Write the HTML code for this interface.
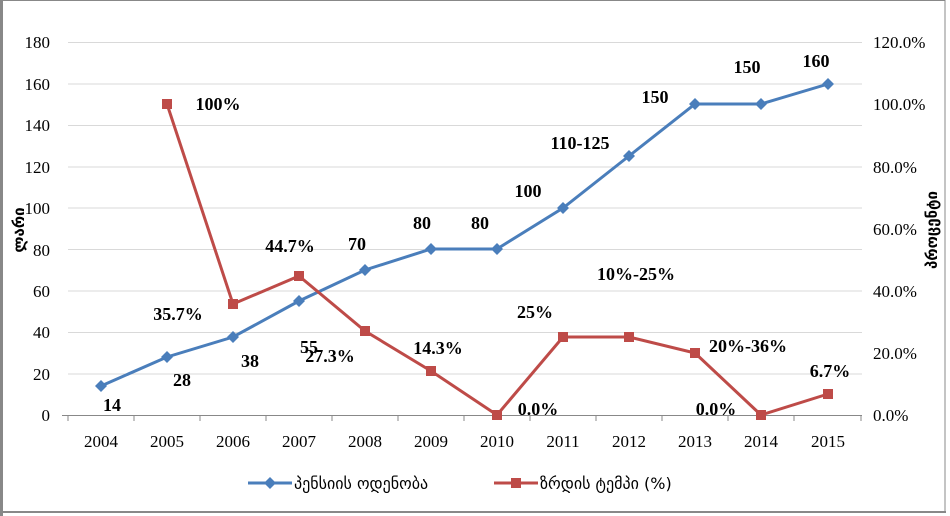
<!DOCTYPE html>
<html><head><meta charset="utf-8"><style>
body{margin:0;background:#fff}
svg{display:block}
.t{font-family:"Liberation Serif","DejaVu Serif",serif;font-size:17px;fill:#000}
.d{font-family:"Liberation Serif",serif;font-weight:bold;font-size:18px;fill:#000;text-anchor:middle}
.g{font-family:"DejaVu Sans",sans-serif;fill:#000}
</style></head><body>
<svg width="950" height="516" viewBox="0 0 950 516">
<rect x="1" y="0.5" width="944" height="511" fill="#fff" stroke="#888" stroke-width="1"/>
<rect x="0" y="0" width="3" height="516" fill="#888"/>
<rect x="0" y="511" width="946" height="2" fill="#888"/>
<g stroke="#d9d9d9" stroke-width="1">
<line x1="68" x2="862" y1="42.5" y2="42.5"/>
<line x1="68" x2="862" y1="84" y2="84"/>
<line x1="68" x2="862" y1="125.5" y2="125.5"/>
<line x1="68" x2="862" y1="167" y2="167"/>
<line x1="68" x2="862" y1="208" y2="208"/>
<line x1="68" x2="862" y1="249.5" y2="249.5"/>
<line x1="68" x2="862" y1="291" y2="291"/>
<line x1="68" x2="862" y1="332.5" y2="332.5"/>
<line x1="68" x2="862" y1="374" y2="374"/>
</g>
<line x1="62" x2="862" y1="415.5" y2="415.5" stroke="#888"/>
<g stroke="#888">
<line x1="68" x2="68" y1="415" y2="421"/><line x1="134" x2="134" y1="415" y2="421"/><line x1="200" x2="200" y1="415" y2="421"/><line x1="266" x2="266" y1="415" y2="421"/><line x1="332" x2="332" y1="415" y2="421"/><line x1="398" x2="398" y1="415" y2="421"/><line x1="464" x2="464" y1="415" y2="421"/><line x1="530" x2="530" y1="415" y2="421"/><line x1="596" x2="596" y1="415" y2="421"/><line x1="662" x2="662" y1="415" y2="421"/><line x1="728" x2="728" y1="415" y2="421"/><line x1="794" x2="794" y1="415" y2="421"/><line x1="861" x2="861" y1="415" y2="421"/>
</g>
<g class="t" text-anchor="end">
<text x="50" y="48">180</text><text x="50" y="90">160</text><text x="50" y="131">140</text><text x="50" y="173">120</text><text x="50" y="214">100</text><text x="50" y="256">80</text><text x="50" y="297">60</text><text x="50" y="338">40</text><text x="50" y="380">20</text><text x="50" y="421">0</text>
</g>
<g class="t" text-anchor="start">
<text x="873" y="48">120.0%</text><text x="873" y="110">100.0%</text><text x="873" y="173">80.0%</text><text x="873" y="235">60.0%</text><text x="873" y="297">40.0%</text><text x="873" y="359">20.0%</text><text x="873" y="421">0.0%</text>
</g>
<g class="t" text-anchor="middle">
<text x="101" y="447">2004</text><text x="167" y="447">2005</text><text x="233" y="447">2006</text><text x="299" y="447">2007</text><text x="365" y="447">2008</text><text x="431" y="447">2009</text><text x="497" y="447">2010</text><text x="563" y="447">2011</text><text x="629" y="447">2012</text><text x="695" y="447">2013</text><text x="761" y="447">2014</text><text x="828" y="447">2015</text>
</g>
<text class="g" transform="translate(24,230) rotate(-90)" text-anchor="middle" style="font-weight:bold;font-size:15px">ლარი</text>
<text class="g" transform="translate(937,230) rotate(-90)" text-anchor="middle" style="font-weight:bold;font-size:15px">პროცენტი</text>
<polyline fill="none" stroke="#4a7ebb" stroke-width="3" points="101,386 167,357 233,337 299,301 365,270 431,249 497,249 563,208 629,156 695,104 761,104 828,84"/>
<g fill="#4a7ebb">
<path d="M101,380l6,6l-6,6l-6,-6z"/><path d="M167,351l6,6l-6,6l-6,-6z"/><path d="M233,331l6,6l-6,6l-6,-6z"/><path d="M299,295l6,6l-6,6l-6,-6z"/><path d="M365,264l6,6l-6,6l-6,-6z"/><path d="M431,243l6,6l-6,6l-6,-6z"/><path d="M497,243l6,6l-6,6l-6,-6z"/><path d="M563,202l6,6l-6,6l-6,-6z"/><path d="M629,150l6,6l-6,6l-6,-6z"/><path d="M695,98l6,6l-6,6l-6,-6z"/><path d="M761,98l6,6l-6,6l-6,-6z"/><path d="M828,78l6,6l-6,6l-6,-6z"/>
</g>
<polyline fill="none" stroke="#be4b48" stroke-width="3" points="167,104 233,304 299,276 365,331 431,371 497,415 563,337 629,337 695,353 761,415 828,394"/>
<g fill="#be4b48">
<rect x="162" y="99" width="10" height="10"/><rect x="228" y="299" width="10" height="10"/><rect x="294" y="271" width="10" height="10"/><rect x="360" y="326" width="10" height="10"/><rect x="426" y="366" width="10" height="10"/><rect x="492" y="410" width="10" height="10"/><rect x="558" y="332" width="10" height="10"/><rect x="624" y="332" width="10" height="10"/><rect x="690" y="348" width="10" height="10"/><rect x="756" y="410" width="10" height="10"/><rect x="823" y="389" width="10" height="10"/>
</g>
<g class="d">
<text x="112" y="411">14</text><text x="182" y="386">28</text><text x="250" y="367">38</text><text x="309" y="353">55</text><text x="357" y="250">70</text><text x="422" y="229">80</text><text x="480" y="229">80</text><text x="528" y="197">100</text><text x="580" y="149">110-125</text><text x="655" y="103">150</text><text x="747" y="73">150</text><text x="816" y="67">160</text>
<text x="218" y="110">100%</text><text x="178" y="320">35.7%</text><text x="290" y="252">44.7%</text><text x="330" y="362">27.3%</text><text x="438" y="354">14.3%</text><text x="538" y="415">0.0%</text><text x="535" y="318">25%</text><text x="636" y="280">10%-25%</text><text x="748" y="352">20%-36%</text><text x="716" y="415">0.0%</text><text x="830" y="377">6.7%</text>
</g>
<line x1="248" x2="292" y1="483" y2="483" stroke="#4a7ebb" stroke-width="3"/>
<path d="M270,477l6,6l-6,6l-6,-6z" fill="#4a7ebb"/>
<text class="g" x="294" y="489" style="font-size:16px">პენსიის ოდენობა</text>
<line x1="494" x2="538" y1="483" y2="483" stroke="#be4b48" stroke-width="3"/>
<rect x="511" y="478" width="10" height="10" fill="#be4b48"/>
<text class="g" x="540" y="489" style="font-size:16px">ზრდის ტემპი (%)</text>
</svg>
</body></html>
